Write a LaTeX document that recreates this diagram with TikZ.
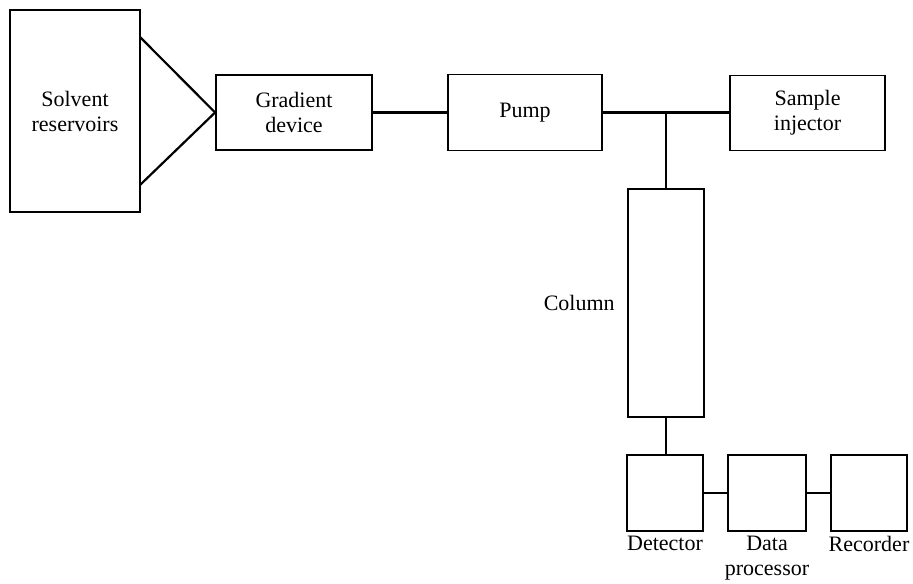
\documentclass[tikz,border=0pt]{standalone}
\usepackage{fontspec}
\setmainfont{Liberation Serif}
\usetikzlibrary{positioning}

\begin{document}
\begin{tikzpicture}[
          x=0.5pt, y=-0.5pt,
          every node/.style = {font=\fontsize{11}{12.5}\selectfont},
          unit/.style = {draw, line width=0.9pt, inner sep=0pt, align=center},
          pipe/.style = {line width=1.1pt},
          tag/.style = {inner sep=2pt, align=center},
        ]
        \useasboundingbox (0,0) rectangle (913,583);

        %% Boxes (sizes in pt, half the pixel size)
        \node[unit, minimum width=65pt, minimum height=101pt]  (solv) at (75,111) {Solvent\\reservoirs};
        \node[unit, minimum width=78pt, minimum height=37.5pt] (grad) at (294,112.5) {Gradient\\device};
        \node[unit, minimum width=77pt, minimum height=38pt]   (pump) at (525,112.5) {Pump};
        \node[unit, minimum width=77.5pt, minimum height=37.5pt] (inj) at (807.5,113) {Sample\\injector};
        \node[unit, minimum width=38pt, minimum height=114pt]  (col)  at (666,303) {};
        \node[unit, minimum width=38pt, minimum height=38pt]   (det)  at (665,493) {};
        \node[unit, minimum width=39pt, minimum height=38pt]   (proc) at (767,493) {};
        \node[unit, minimum width=38pt, minimum height=38pt]   (rec)  at (869,493) {};

        %% Labels outside the boxes
        \node[tag, left=4pt of col] (collab) {Column};
        \node[tag, below=0pt of det]  (detlab)  {Detector};
        \node[tag, below=0pt of proc] (proclab) {Data\\processor};
        \node[tag, below=0pt of rec]  (reclab)  {Recorder};

        %% Solvent lines into gradient device
        \coordinate (s1) at (140,37);
        \coordinate (s2) at (140,185);
        \draw[pipe] (s1) -- (grad.west);
        \draw[pipe] (s2) -- (grad.west);

        %% Flow line
        \draw[pipe] (grad.east) -- (grad.east -| pump.west);
        \draw[pipe] (pump.east) -- (pump.east -| inj.west);
        \draw[pipe] (col.north) -- (col.north |- pump.east);
        \draw[pipe] (col.south) -- (col.south |- det.north);

        %% Detector chain
        \draw[pipe] (det.east) -- (proc.west);
        \draw[pipe] (proc.east) -- (rec.west);
      \end{tikzpicture}
\end{document}
